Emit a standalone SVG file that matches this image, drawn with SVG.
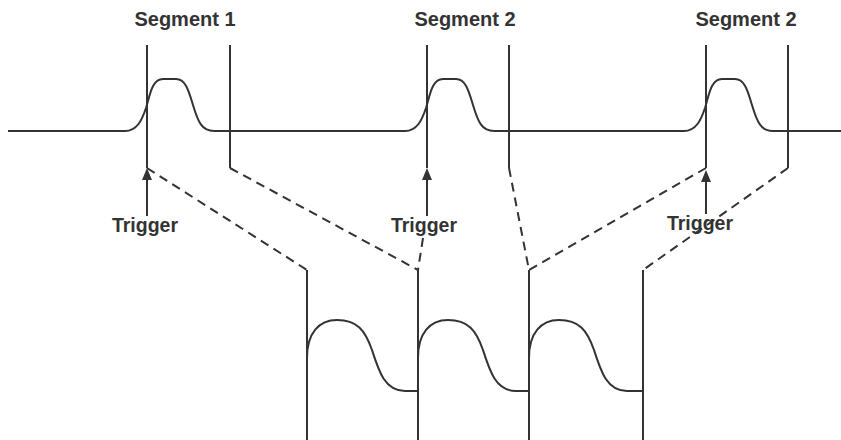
<svg xmlns="http://www.w3.org/2000/svg" width="841" height="440" viewBox="0 0 841 440">
  <style>
    .solid { fill: none; stroke: #333; stroke-width: 2; stroke-linejoin: round; }
    .dash { fill: none; stroke: #333; stroke-width: 2; stroke-dasharray: 9 6; }
    .seg { font-family: "Liberation Sans", Arial, sans-serif; font-weight: bold; font-size: 20px; fill: #333; text-anchor: middle; }
    .trig { font-family: "Liberation Sans", Arial, sans-serif; font-weight: bold; font-size: 19.5px; fill: #333; text-anchor: middle; }
  </style>
  <defs>
    <marker id="arrow" markerUnits="userSpaceOnUse" markerWidth="12" markerHeight="10" refX="0" refY="5" orient="auto">
      <path d="M0,0 L12,5 L0,10 z" fill="#333"/>
    </marker>
    <path id="topPulse" d="M-22,0 C-10,0 -5,-11 -1,-23 C3,-36 5,-52 16,-52 L29,-52 C39,-52 42,-39 46,-26 C51,-9 55,0 67,0" class="solid"/>
    <path id="botPulse" d="M0,358 C0,333 12,320 30,320 C50,320 58,330 65,350 C72,372 78,391 98,391" class="solid"/>
  </defs>

  <g id="connectors">
    <line class="dash" x1="147" y1="168" x2="307" y2="270"/>
    <line class="dash" x1="230" y1="168" x2="418" y2="270"/>
    <line class="dash" x1="423" y1="238" x2="418" y2="270"/>
    <line class="dash" x1="509" y1="168" x2="529" y2="270"/>
    <line class="dash" x1="706" y1="168" x2="529" y2="270"/>
    <line class="dash" x1="788" y1="168" x2="643" y2="270"/>
  </g>

  <g id="signal">
    <path class="solid" d="M8,131 L125,131 M214,131 L405,131 M494,131 L684,131 M773,131 L841,131"/>
    <use href="#topPulse" x="147" y="131"/>
    <use href="#topPulse" x="427" y="131"/>
    <use href="#topPulse" x="706" y="131"/>
  </g>

  <g id="segment1">
    <text class="seg" x="185" y="26">Segment 1</text>
    <line class="solid" x1="147" y1="45" x2="147" y2="168"/>
    <line class="solid" x1="230" y1="45" x2="230" y2="168"/>
  </g>
  <g id="segment2a">
    <text class="seg" x="465" y="26">Segment 2</text>
    <line class="solid" x1="427" y1="45" x2="427" y2="168"/>
    <line class="solid" x1="509" y1="45" x2="509" y2="168"/>
  </g>
  <g id="segment2b">
    <text class="seg" x="746" y="26">Segment 2</text>
    <line class="solid" x1="706" y1="45" x2="706" y2="168"/>
    <line class="solid" x1="788" y1="45" x2="788" y2="168"/>
  </g>

  <g id="trigger1">
    <line class="solid" x1="147" y1="216" x2="147" y2="180" marker-end="url(#arrow)"/>
    <text class="trig" x="145" y="232">Trigger</text>
  </g>
  <g id="trigger2">
    <line class="solid" x1="427" y1="216" x2="427" y2="180" marker-end="url(#arrow)"/>
    <text class="trig" x="424" y="232">Trigger</text>
  </g>
  <g id="trigger3">
    <line class="solid" x1="706" y1="214" x2="706" y2="182" marker-end="url(#arrow)"/>
    <text class="trig" x="700" y="230">Trigger</text>
  </g>

  <g id="acquired">
    <line class="solid" x1="307" y1="270" x2="307" y2="440"/>
    <line class="solid" x1="418" y1="270" x2="418" y2="440"/>
    <line class="solid" x1="529" y1="270" x2="529" y2="440"/>
    <line class="solid" x1="643" y1="270" x2="643" y2="440"/>
    <use href="#botPulse" x="307"/>
    <line class="solid" x1="405" y1="391" x2="418" y2="391"/>
    <use href="#botPulse" x="418"/>
    <line class="solid" x1="516" y1="391" x2="529" y2="391"/>
    <use href="#botPulse" x="529"/>
    <line class="solid" x1="627" y1="391" x2="643" y2="391"/>
  </g>
</svg>
